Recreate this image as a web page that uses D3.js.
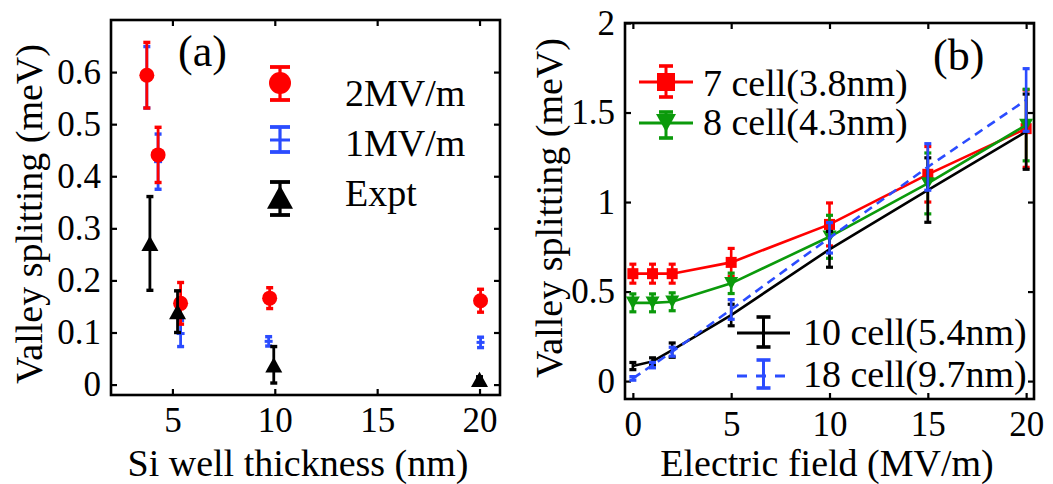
<!DOCTYPE html>
<html>
<head>
<meta charset="utf-8">
<script src="https://cdn.jsdelivr.net/npm/d3@7"></script>
</head>
<body style="margin:0;background:#fff">
<svg id="fig" width="1053" height="484" font-family="Liberation Serif" style="display:block"></svg>
<script>
// ---- Panel (a): valley splitting vs Si well thickness ----
const well2MV = [3.75, 4.3, 5.4, 9.75, 20.05];
const split2MV = [0.594, 0.441, 0.156, 0.166, 0.161];
const err2MV = [0.063, 0.053, 0.04, 0.02, 0.022];

const well1MV = [3.75, 4.3, 5.4, 9.7, 20.05];
const split1MV = [0.59, 0.428, 0.098, 0.083, 0.081];
const err1MV = [0.059, 0.053, 0.025, 0.009, 0.01];

const wellExpt = [3.9, 5.25, 9.95, 20];
const splitExpt = [0.271, 0.14, 0.038, 0.01];
const errExpt = [0.09, 0.04, 0.035, 0.005];

const ticksAX = [5, 10, 15, 20];
const ticksAY = [0, 0.1, 0.2, 0.3, 0.4, 0.5, 0.6];
const labelsAY = ["0", "0.1", "0.2", "0.3", "0.4", "0.5", "0.6"];
const legendA = ["2MV/m", "1MV/m", "Expt"];

// ---- Panel (b): valley splitting vs electric field ----
const field = [0, 1, 2, 5, 10, 15, 20];
const cell7 = [0.60, 0.60, 0.60, 0.663, 0.875, 1.155, 1.41];
const cell7Err = [0.053, 0.053, 0.053, 0.078, 0.12, 0.155, 0.216];
const cell8 = [0.437, 0.437, 0.443, 0.546, 0.806, 1.104, 1.43];
const cell8Err = [0.05, 0.05, 0.05, 0.057, 0.12, 0.17, 0.2];
const cell10 = [0.084, 0.11, 0.173, 0.369, 0.736, 1.067, 1.393];
const cell10Err = [0.02, 0.02, 0.04, 0.06, 0.1, 0.18, 0.21];
const cell18 = [0.015, 0.089, 0.164, 0.40, 0.80, 1.196, 1.57];
const cell18Err = [0.01, 0.015, 0.025, 0.055, 0.085, 0.13, 0.175];

const ticksBX = [0, 5, 10, 15, 20];
const ticksBY = [0, 0.5, 1, 1.5, 2];
const labelsBY = ["0", "0.5", "1", "1.5", "2"];
const legendB = ["7 cell(3.8nm)", "8 cell(4.3nm)", "10 cell(5.4nm)", "18 cell(9.7nm)"];

const RED = "#ff0000", BLUE = "#2b4cff", GREEN = "#0b9a0b", BLACK = "#000000";
const FONT = "Liberation Serif";
const TICK_FONT = 35, LABEL_FONT = 38;

const svg = d3.select("#fig");

function label(parent, txt, size) {
  return parent.append("text").attr("font-family", FONT).style("font-family", FONT)
    .attr("font-size", size).attr("fill", "#000").text(txt);
}

// Draws a boxed axes frame with inward ticks on all four sides.
function frame(x, y, xt, yt, ylabels) {
  const [x0, x1] = x.range();
  const [y0, y1] = y.range();
  const g = svg.append("g");
  const styleAxis = sel => {
    sel.attr("font-family", FONT).attr("font-size", TICK_FONT);
    sel.select(".domain").remove();
    sel.selectAll(".tick line").attr("stroke", "#000").attr("stroke-width", 2.2);
    sel.selectAll("text").attr("fill", "#000")
      .attr("font-family", FONT).style("font-family", FONT).attr("font-size", TICK_FONT);
  };
  g.append("g").attr("transform", `translate(0,${y0})`)
    .call(d3.axisBottom(x).tickValues(xt).tickSize(-6).tickPadding(12).tickFormat(d3.format("d")))
    .call(styleAxis);
  g.append("g").attr("transform", `translate(0,${y1})`)
    .call(d3.axisTop(x).tickValues(xt).tickSize(-6).tickFormat(""))
    .call(styleAxis);
  g.append("g").attr("transform", `translate(${x0},0)`)
    .call(d3.axisLeft(y).tickValues(yt).tickSize(-6).tickPadding(10).tickFormat((d, i) => ylabels[i]))
    .call(styleAxis);
  g.append("g").attr("transform", `translate(${x1},0)`)
    .call(d3.axisRight(y).tickValues(yt).tickSize(-6).tickFormat(""))
    .call(styleAxis);
  g.append("rect").attr("x", x0).attr("y", y1).attr("width", x1 - x0).attr("height", y0 - y1)
    .attr("fill", "none").attr("stroke", "#000").attr("stroke-width", 2.6);
}

// Vertical error bar with caps.
function errbar(g, cx, yTop, yBot, cap, color, w) {
  g.append("line").attr("x1", cx).attr("x2", cx).attr("y1", yTop).attr("y2", yBot)
    .attr("stroke", color).attr("stroke-width", w);
  [yTop, yBot].forEach(yy => g.append("line")
    .attr("x1", cx - cap / 2).attr("x2", cx + cap / 2).attr("y1", yy).attr("y2", yy)
    .attr("stroke", color).attr("stroke-width", w + 0.6));
}

function marker(g, type, cx, cy, size, color) {
  if (type === "circle") {
    g.append("circle").attr("cx", cx).attr("cy", cy).attr("r", size / 2).attr("fill", color);
  } else if (type === "square") {
    g.append("rect").attr("x", cx - size / 2).attr("y", cy - size / 2)
      .attr("width", size).attr("height", size).attr("fill", color);
  } else if (type === "up") {
    const h = size * 0.9;
    g.append("path").attr("d", `M${cx - size / 2},${cy + h / 2}L${cx + size / 2},${cy + h / 2}L${cx},${cy - h / 2}Z`)
      .attr("fill", color);
  } else if (type === "down") {
    const h = size * 0.9;
    g.append("path").attr("d", `M${cx - size / 2},${cy - h / 2}L${cx + size / 2},${cy - h / 2}L${cx},${cy + h / 2}Z`)
      .attr("fill", color);
  } else if (type === "dash") {
    g.append("line").attr("x1", cx - size / 2).attr("x2", cx + size / 2).attr("y1", cy).attr("y2", cy)
      .attr("stroke", color).attr("stroke-width", 3);
  }
}

// ================= Panel (a) =================
const xa = d3.scaleLinear().domain([2, 21]).range([111, 500]);
const ya = d3.scaleLinear().domain([-0.02, 0.7]).range([395, 20]);
frame(xa, ya, ticksAX, ticksAY, labelsAY);

const ga = svg.append("g");
const seriesA = [
  { xs: well1MV, ys: split1MV, es: err1MV, color: BLUE, mk: "dash", size: 8 },
  { xs: well2MV, ys: split2MV, es: err2MV, color: RED, mk: "circle", size: 15 },
  { xs: wellExpt, ys: splitExpt, es: errExpt, color: BLACK, mk: "up", size: 17 }
];
seriesA.forEach(s => {
  s.xs.forEach((xv, i) => {
    errbar(ga, xa(xv), ya(s.ys[i] + s.es[i]), ya(s.ys[i] - s.es[i]), 7, s.color, 2.8);
    marker(ga, s.mk, xa(xv), ya(s.ys[i]), s.size, s.color);
  });
});

// legend (a)
const legA = svg.append("g");
const legAItems = [
  { color: RED, mk: "circle", size: 22, cy: 83, top: 67, bot: 100, base: 106 },
  { color: BLUE, mk: "dash", size: 20, cy: 140, top: 127, bot: 152, base: 156 },
  { color: BLACK, mk: "up", size: 26, cy: 197, top: 182, bot: 215, base: 206 }
];
legAItems.forEach((d, i) => {
  errbar(legA, 280, d.top, d.bot, 20, d.color, 3.2);
  marker(legA, d.mk, 280, d.cy, d.size, d.color);
  label(legA, legendA[i], LABEL_FONT).attr("x", 345).attr("y", d.base);
});

label(svg, "(a)", 44).attr("x", 178).attr("y", 66);
label(svg, "Si well thickness (nm)", LABEL_FONT).attr("x", 298).attr("y", 476)
  .attr("text-anchor", "middle");
label(svg, "Valley splitting (meV)", LABEL_FONT)
  .attr("transform", "translate(42,214) rotate(-90)").attr("text-anchor", "middle");

// ================= Panel (b) =================
const xb = d3.scaleLinear().domain([-0.4, 20.4]).range([625, 1034]);
const yb = d3.scaleLinear().domain([-0.1, 2]).range([399, 23]);
frame(xb, yb, ticksBX, ticksBY, labelsBY);

const gb = svg.append("g");
const seriesB = [
  { ys: cell7, es: cell7Err, color: RED, mk: "square", size: 11, dash: null },
  { ys: cell8, es: cell8Err, color: GREEN, mk: "down", size: 14, dash: null },
  { ys: cell10, es: cell10Err, color: BLACK, mk: null, size: 0, dash: null },
  { ys: cell18, es: cell18Err, color: BLUE, mk: null, size: 0, dash: "9,6" }
];
const lineB = d3.line();
seriesB.forEach(s => {
  const pts = field.map((f, i) => [xb(f), yb(s.ys[i])]);
  gb.append("path").attr("d", lineB(pts)).attr("fill", "none").attr("stroke", s.color)
    .attr("stroke-width", 2.6).attr("stroke-dasharray", s.dash);
  field.forEach((f, i) => {
    errbar(gb, xb(f), yb(s.ys[i] + s.es[i]), yb(s.ys[i] - s.es[i]), 7, s.color, 2.6);
    if (s.mk) marker(gb, s.mk, xb(f), yb(s.ys[i]), s.size, s.color);
  });
});

// legend (b)
const legB = svg.append("g");
const legBItems = [
  { color: RED, mk: "square", size: 18, x0: 639, x1: 693, tx: 703, cy: 82, top: 66, bot: 97, base: 96, dash: null },
  { color: GREEN, mk: "down", size: 20, x0: 639, x1: 693, tx: 703, cy: 123, top: 112, bot: 138, base: 135, dash: null },
  { color: BLACK, mk: null, size: 0, x0: 737, x1: 790, tx: 803, cy: 333, top: 317, bot: 347, base: 345, dash: null },
  { color: BLUE, mk: null, size: 0, x0: 737, x1: 790, tx: 803, cy: 376, top: 360, bot: 388, base: 387, dash: "10,9" }
];
legBItems.forEach((d, i) => {
  legB.append("line").attr("x1", d.x0).attr("x2", d.x1).attr("y1", d.cy).attr("y2", d.cy)
    .attr("stroke", d.color).attr("stroke-width", 3).attr("stroke-dasharray", d.dash);
  const cx = (d.x0 + d.x1) / 2;
  errbar(legB, cx, d.top, d.bot, 14, d.color, 3);
  if (d.mk) marker(legB, d.mk, cx, d.cy, d.size, d.color);
  label(legB, legendB[i], LABEL_FONT).attr("x", d.tx).attr("y", d.base);
});

label(svg, "(b)", 44).attr("x", 933).attr("y", 70);
label(svg, "Electric field (MV/m)", LABEL_FONT).attr("x", 827).attr("y", 476)
  .attr("text-anchor", "middle");
label(svg, "Valley splitting (meV)", LABEL_FONT)
  .attr("transform", "translate(562,208) rotate(-90)").attr("text-anchor", "middle");
</script>
</body>
</html>
